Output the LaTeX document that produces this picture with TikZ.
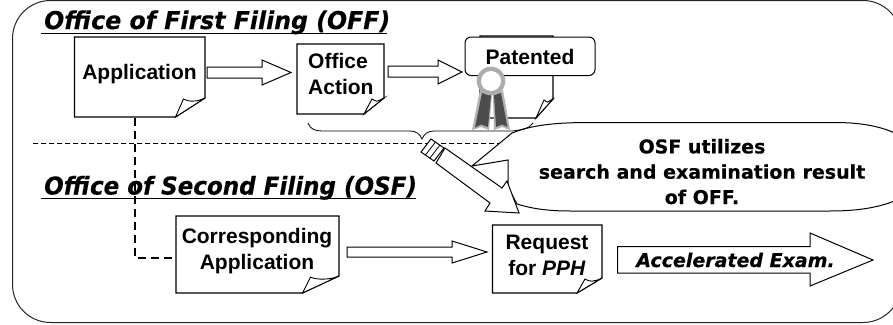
\documentclass[tikz,border=0pt]{standalone}
\usepackage{fontspec}
\usepackage{graphicx}
\setmainfont{Liberation Sans}
\newfontfamily\verd{DejaVu Sans}[BoldFeatures={FakeBold=0.25},BoldItalicFeatures={FakeBold=0.4}]
\begin{document}
\begin{tikzpicture}[x=1pt,y=-1pt,
  arrowshape/.style={draw=black,line width=1pt,fill=white,line join=miter},
  docshape/.style={draw=black,line width=1.2pt,fill=white,line join=miter},
  foldshape/.style={draw=black,line width=0.9pt,fill=white},
  lab/.style={font=\fontsize{21}{25.5}\selectfont\bfseries,align=center,inner sep=0pt,anchor=base},
  vlab/.style={font=\verd\fontsize{19}{25.3}\selectfont\bfseries,align=center,inner sep=0pt,anchor=base},
  ttl/.style={font=\verd\fontsize{24.5}{28}\selectfont\bfseries\itshape,anchor=base west,inner sep=0pt}]
\useasboundingbox (0,0) rectangle (893,324);
\fill[white] (0,0) rectangle (893,324);
\path[clip] (0,0) rectangle (893,324);
% outer frame
\draw[black!85,line width=1pt,rounded corners=38pt] (12.5,0.5) rectangle (901,322.5);
% separator
\coordinate (sepL) at (33,143.5);
\coordinate (sepR) at (505,143.5);
\draw[line width=0.7pt,dash pattern=on 5pt off 3pt] (sepL) -- (sepR);
% titles
\node[ttl] (t1) at (44,29) {\scalebox{.965}[1]{Office of First Filing (OFF)}};
\draw[line width=1pt] (41,33.5) -- (387,33.5);
\node[ttl] (t2) at (44,194.5) {\scalebox{.94}[1]{Office of Second Filing (OSF)}};
\draw[line width=1pt] (41,198.5) -- (416,198.5);
% documents
\newcommand{\docbox}[6]{%
  \path[docshape] (#1,#2) -- (#3,#2) -- (#3,#5) -- (#6,#4) -- (#1,#4) -- cycle;
  \path[foldshape] (#6,#4) -- (#6+8,#5+1) .. controls (#6+13,#5+4) and (#3-8,#5+4) .. (#3,#5) -- cycle;
}
\docbox{74.5}{37}{205}{117}{98}{175.5}
\docbox{297}{44}{384}{114}{98}{364}
\docbox{480}{36}{553}{118}{99}{536}
\docbox{176}{216}{339}{293}{276}{302.5}
\docbox{492.5}{225}{602}{293}{278}{577}
% connector dashed
\coordinate (appB) at (135,118);
\coordinate (corrL) at (172,258);
\draw[line width=1.4pt,dash pattern=on 8pt off 5pt] (appB) -- (135,258) -- (corrL);
% arrows
\path[arrowshape] (207,67) -- (262,67) -- (262,60) -- (291,72.5) -- (262,85) -- (262,78) -- (207,78) -- cycle;
\path[arrowshape] (388,66) -- (438,66) -- (438,60) -- (462,72) -- (438,84) -- (438,77) -- (388,77) -- cycle;
\path[arrowshape] (347,247) -- (452,247) -- (452,241) -- (487,252) -- (452,263) -- (452,257) -- (347,257) -- cycle;
\path[arrowshape] (617.5,246.5) -- (810,246.5) -- (810,233) -- (873,260) -- (810,286) -- (810,273) -- (617.5,273) -- cycle;
% patented
\draw[line width=1pt,fill=white,rounded corners=6pt] (465,37) rectangle (595,75.5);
% ribbon
\fill[gray!60] (480,90) -- (472,130) -- (481,127) -- (489,130) -- (492,95) -- cycle;
\fill[gray!60] (493,95) -- (494,130) -- (502,127) -- (510,130) -- (503,90) -- cycle;
\fill[black!70] (482,93) -- (475,127.5) -- (481,124.5) -- (488,127) -- (491,95) -- cycle;
\fill[black!70] (494,95) -- (496,127) -- (502,124.5) -- (507.5,127) -- (501,93) -- cycle;
\fill[gray!65] (491,81) circle (14.3);
\fill[white] (491,81) circle (10);
% callout
\path[draw=black,line width=1pt,fill=white,line join=miter] (508,160) -- (472,166) -- (512,133) .. controls (530,126) and (550,122.5) .. (590,122.5) -- (835,122.5) .. controls (860,122.5) and (880,126) .. (897,134) -- (897,200) .. controls (880,207) and (860,211) .. (830,211) -- (570,211) .. controls (545,211) and (530,208) .. (517,204) -- (508,187) -- cycle;
% brace
\draw[line width=0.8pt] (308,123) .. controls (310,129) and (315,131) .. (322,131) -- (410,131) .. controls (416,131) and (420,134) .. (422,139) .. controls (424,134) and (428,131) .. (434,131) -- (512,131) .. controls (522,130) and (530,128) .. (533,123);
% pencil arrow
\path[arrowshape] (445,148) -- (502,188) -- (507,181) -- (519,213) -- (485,211) -- (490,203) -- (436,163) -- cycle;
\path[arrowshape] (431,139) -- (444,148) -- (434,161) -- (421,152) -- cycle;
\draw[line width=0.8pt] (435.5,142) -- (425.5,155) (440,145) -- (430,158);
% texts
\node[lab] (ta) at (139.5,79) {Application};
\node[lab,align=left,anchor=base west] (tb) at (308,94) {Office\\Action};
\node[lab] (tc) at (530,64) {Patented};
\node[lab] (td) at (257,269) {Corresponding\\Application};
\node[lab] (te) at (547,275) {Request\\for \textit{PPH}};
\node[vlab] (tf) at (702,204) {OSF utilizes\\search and examination result\\of OFF.};
\node[font=\verd\fontsize{19}{22}\selectfont\bfseries\itshape,inner sep=0pt,anchor=base] (tg) at (735.5,267) {Accelerated Exam.};
\end{tikzpicture}
\end{document}
